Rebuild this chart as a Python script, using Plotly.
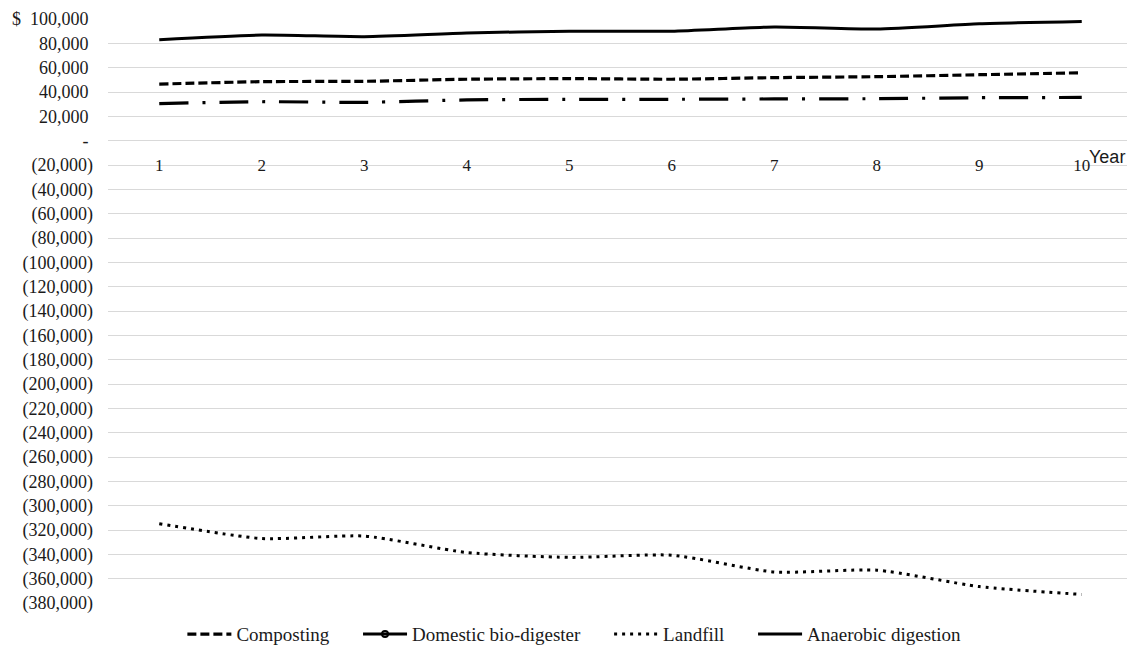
import plotly.graph_objects as go

years = [1, 2, 3, 4, 5, 6, 7, 8, 9, 10]
composting = [46500, 48500, 48800, 50500, 51000, 50500, 51800, 52600, 54200, 55800]
domestic = [30500, 32000, 31500, 33500, 34000, 34000, 34300, 34500, 35300, 35500]
landfill = [-314800, -327000, -325000, -338500, -342500, -340700, -354500, -353000, -366500, -373000]
anaerobic = [83000, 86800, 85500, 88500, 90000, 90000, 93500, 91800, 96000, 98000]

y_ticks = list(range(-380000, 100001, 20000))
y_min, y_max = -380000, 100000


def fmt(v):
    if v == 0:
        return "-\u00a0"
    if v < 0:
        return "({:,})".format(-v)
    if v == y_max:
        return "$\u00a0\u00a0{:,}\u00a0".format(v)
    return "{:,}\u00a0".format(v)


y_text = [fmt(v) for v in y_ticks]

serif = "Liberation Serif, Times New Roman, serif"
ink = "#1a1a1a"
pad = "\u00a0" * 5

fig = go.Figure()
fig.add_trace(go.Scatter(
    x=years, y=composting, name="Composting" + pad, mode="lines",
    line=dict(color="black", width=3.2, dash="9px,4px", shape="spline", smoothing=0.6),
))
fig.add_trace(go.Scatter(
    x=[None], y=[None], name="Domestic bio-digester" + pad, mode="lines+markers",
    line=dict(color="black", width=3), legendgroup="dom",
    marker=dict(symbol="circle-open", size=6, color="black", line=dict(width=2)),
))
fig.add_trace(go.Scatter(
    x=years, y=landfill, name="Landfill" + pad, mode="lines",
    line=dict(color="black", width=3, dash="3px,5px", shape="spline", smoothing=0.6),
))
fig.add_trace(go.Scatter(
    x=years, y=anaerobic, name="Anaerobic digestion", mode="lines",
    line=dict(color="black", width=3, shape="spline", smoothing=0.6),
))
fig.add_trace(go.Scatter(
    x=years, y=domestic, name="Domestic bio-digester", mode="lines",
    showlegend=False, legendgroup="dom",
    line=dict(color="black", width=3.2, dash="29px,14px,3px,14px", shape="spline", smoothing=0.6),
))

zero_pos = (0 - y_min) / (y_max - y_min)

fig.update_layout(
    width=1127, height=639,
    margin=dict(l=100, r=2, t=11, b=44, autoexpand=False),
    paper_bgcolor="white", plot_bgcolor="white",
    font=dict(family=serif, size=18, color=ink),
    showlegend=True,
    legend=dict(
        orientation="h", x=0.455, xanchor="center",
        yref="container", y=0.02, yanchor="middle",
        font=dict(family=serif, size=19, color=ink), itemwidth=44,
        traceorder="normal",
    ),
    xaxis=dict(
        range=[0.5, 10.5], tickmode="array", tickvals=years,
        ticktext=[str(v) for v in years],
        showgrid=False, zeroline=False, showline=False,
        anchor="free", position=zero_pos, automargin=False,
        ticks="", ticklabelstandoff=12,
        tickfont=dict(family=serif, size=17, color=ink),
    ),
    yaxis=dict(
        range=[y_min, y_max], tickmode="array", tickvals=y_ticks, ticktext=y_text,
        showgrid=True, gridcolor="#d9d9d9", gridwidth=1,
        zeroline=False, showline=False, ticks="", automargin=False,
        ticklabelstandoff=14,
        tickfont=dict(family=serif, size=18, color=ink),
    ),
    annotations=[dict(
        text="Year", xref="paper", yref="y", x=0.975, y=0, yshift=-16,
        showarrow=False, xanchor="center", yanchor="middle",
        font=dict(family="Liberation Sans, Arial, sans-serif", size=18, color=ink),
    )],
)

fig.write_html("out.html")
